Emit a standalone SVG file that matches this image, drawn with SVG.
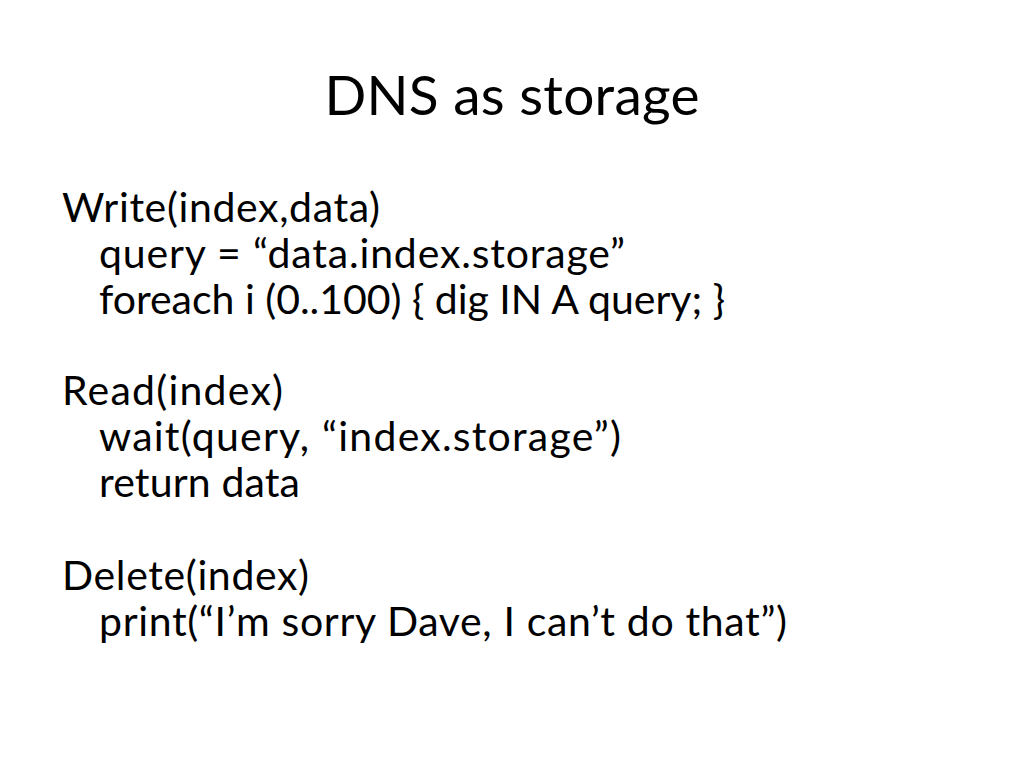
<svg xmlns="http://www.w3.org/2000/svg" width="1024" height="768" viewBox="0 0 1024 768">
<style>
text{font-family:Lato,"Open Sans",sans-serif;fill:#000}
.t{font-size:55px}
.b{font-size:41px}
</style>
<rect width="1024" height="768" fill="#fff"/>
<text class="t" x="512" y="115" text-anchor="middle" textLength="375">DNS as storage</text>
<g id="body" class="b">
<text x="62" y="222" textLength="318">Write(index,data)</text>
<text x="99" y="268" textLength="526">query = “data.index.storage”</text>
<text x="99" y="314" textLength="626">foreach i (0..100) { dig IN A query; }</text>
<text x="62" y="405" textLength="221">Read(index)</text>
<text x="99" y="451" textLength="522">wait(query, “index.storage”)</text>
<text x="99" y="497" textLength="201">return data</text>
<text x="62" y="590" textLength="247">Delete(index)</text>
<text x="99" y="636" textLength="688">print(“I’m sorry Dave, I can’t do that”)</text>
</g>
</svg>
